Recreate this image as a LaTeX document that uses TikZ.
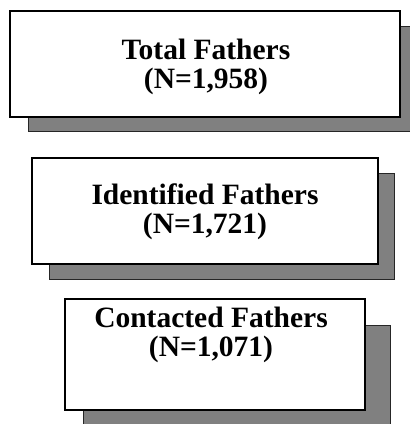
\documentclass[tikz,border=0pt]{standalone}
\usepackage{fontspec}
\setmainfont{Liberation Serif}
\usepackage{tikz}
\definecolor{shadowgray}{RGB}{128,128,128}

\begin{document}
\begin{tikzpicture}[x=1pt,y=-1pt,
	box/.style={draw=black,line width=1.6pt,fill=white,inner sep=0pt},
	shade/.style={draw=black!85,line width=0.8pt,fill=shadowgray},
	caption/.style={align=center,font=\bfseries\fontsize{29.5}{29.5}\selectfont,inner sep=0pt}]
	\useasboundingbox (0,0) rectangle (410,424);
	% shadows
	\draw[shade] (28,26) rectangle (420,131);
	\draw[shade] (49,173) rectangle (394,279);
	\draw[shade] (83,325) rectangle (390,432);
	% boxes
	\node[box,minimum width=390,minimum height=106] (total) at (205,64) {};
	\node[box,minimum width=346,minimum height=106] (identified) at (205,211) {};
	\node[box,minimum width=300,minimum height=111] (contacted) at (215,354.5) {};
	% texts
	\node[caption] (totaltext) at (206,67) {Total Fathers\\(N=1,958)};
	\node[caption] (identifiedtext) at (205,212) {Identified Fathers\\(N=1,721)};
	\node[caption] (contactedtext) at (211,335) {Contacted Fathers\\(N=1,071)};
\end{tikzpicture}
\end{document}
